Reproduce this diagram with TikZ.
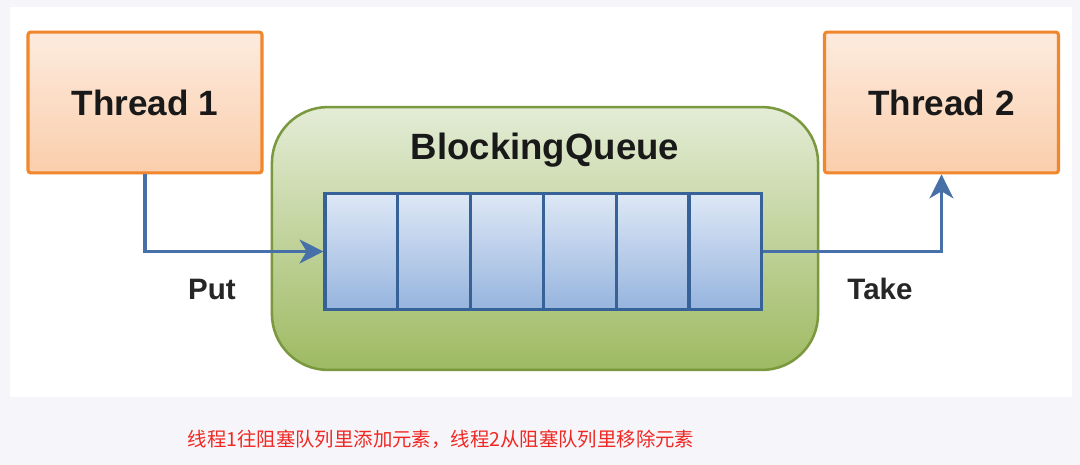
\documentclass[tikz,border=0pt]{standalone}
\usepackage{fontspec}
\setmainfont{Liberation Sans}
\newfontfamily\cjk{Noto Sans CJK SC}
\usetikzlibrary{arrows.meta}
\definecolor{thrline}{RGB}{240,135,45}
\definecolor{thrtop}{RGB}{253,235,222}
\definecolor{thrbot}{RGB}{250,206,172}
\definecolor{qline}{RGB}{122,152,62}
\definecolor{qtop}{RGB}{228,236,214}
\definecolor{qbot}{RGB}{158,186,98}
\definecolor{cline}{RGB}{55,98,152}
\definecolor{ctop}{RGB}{222,232,246}
\definecolor{cbot}{RGB}{150,180,222}
\definecolor{arr}{RGB}{72,112,168}
\definecolor{note}{RGB}{240,40,35}
\definecolor{bgrey}{RGB}{246,246,250}
\tikzset{
	thr_n/.style = {rectangle, rounded corners=2pt, draw=thrline, line width=2.2pt,
		top color=thrtop, bottom color=thrbot, minimum width=5.85cm,
		minimum height=3.52cm, font=\fontsize{25}{30}\selectfont\bfseries, text=black!90},
	que_n/.style = {rectangle, rounded corners=1.4cm, draw=qline, line width=1.8pt,
		top color=qtop, bottom color=qbot, minimum width=13.65cm, minimum height=6.57cm},
	cell_n/.style = {rectangle, draw=cline, line width=2.2pt, top color=ctop,
		bottom color=cbot, minimum width=1.82cm, minimum height=2.92cm, inner sep=0pt},
	lbl_n/.style = {font=\fontsize{21}{25}\selectfont\bfseries, text=black!85},
	flow/.style = {draw=arr, line width=2.2pt, -{Stealth[length=17pt,width=17pt,inset=5pt]}}
}
\begin{document}
\begin{tikzpicture}[x=0.025cm,y=-0.025cm]
% background and white panel
\fill[bgrey] (0,0) rectangle (1080,465);
\fill[white] (10,7) rectangle (1072,397);

\node [thr_n] (t1) at (145,102.5) {Thread 1};
\node [thr_n] (t2) at (941.5,102.5) {Thread 2};

\node [que_n] (bq) at (545,238.5) {};
\node [font=\fontsize{26}{30}\selectfont\bfseries, text=black!90] (bqname) at (545,150) {BlockingQueue};

% queue cells
\foreach \i in {1,...,6}
	\node [cell_n] (c\i) at ({325+72.8*(\i-0.5)},251.5) {};

\draw [flow] (t1.south) |- (c1.west);
\draw [flow] (c6.east) -| (t2.south);

\node [lbl_n] (put) at (212,289) {Put};
\node [lbl_n] (take) at (880,289) {Take};

\node [font=\cjk\fontsize{13.8}{17}\selectfont, text=note] (msg) at (441,439)
	{线程1往阻塞队列里添加元素，线程2从阻塞队列里移除元素};
\end{tikzpicture}
\end{document}
